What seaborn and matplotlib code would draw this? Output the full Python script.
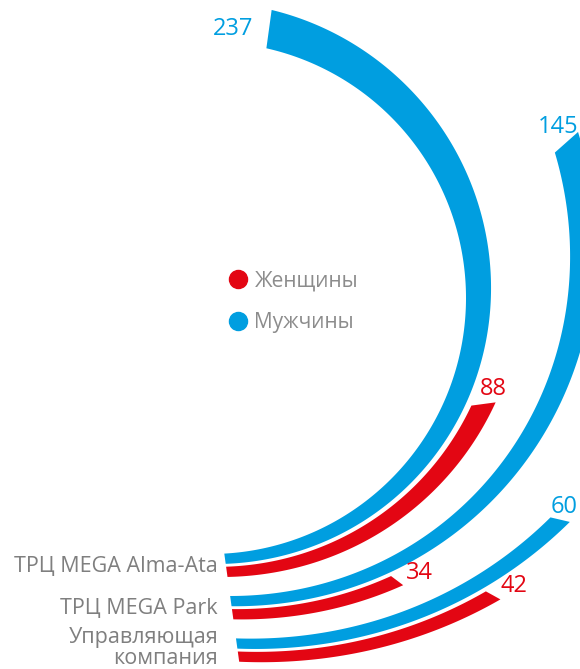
import numpy as np
import matplotlib
matplotlib.use("Agg")
import matplotlib.pyplot as plt
from matplotlib.lines import Line2D
import seaborn as sns

# ---- data ----
groups = ["ТРЦ MEGA Alma-Ata", "ТРЦ MEGA Park", "Управляющая\nкомпания"]
series = ["Женщины", "Мужчины"]
women = [88, 34, 42]
men = [237, 145, 60]

# ---- style ----
BLUE = "#009EE0"
RED = "#E30613"
GREY = "#7F7F7F"
LEGEND_GREY = "#8C8C8C"

sns.set_theme(style="white")
plt.rcParams["font.family"] = ["Open Sans", "DejaVu Sans"]

# ---- geometry (screen-pixel data space) ----
W, H = 580, 669
CX, CY0, RHO0, SHIFT, BULGE = 210.0, 298.0, 256.0, 0.6, 0.1
THETA0 = 3.2                  # degrees, measured from "down", counter-clockwise
DEG_PER_UNIT = 180.0 / 260.0  # angular scale of the value axis
GROUP_STEP, PAIR_STEP, BAND = 103.5, 32.0, 25.0
VAL_FS, CAT_FS, LEG_FS = 17, 15.5, 15


def point(rho, theta_deg):
    t = np.deg2rad(theta_deg)
    cy = CY0 - SHIFT * (rho - RHO0)
    r = rho + BULGE * (rho - RHO0) * np.sin(2 * t)
    return CX + r * np.sin(t), cy + r * np.cos(t)


def arc_polygon(r_in, value):
    t1 = THETA0 + value * DEG_PER_UNIT
    th = np.linspace(THETA0, t1, 300)
    xo, yo = point(r_in + BAND, th)
    xi, yi = point(r_in, th[::-1])
    return np.concatenate([xo, xi]), np.concatenate([yo, yi]), t1


fig = plt.figure(figsize=(W / 100, H / 100), dpi=100)
ax = fig.add_axes([0, 0, 1, 1])
ax.set_xlim(0, W)
ax.set_ylim(H, 0)
ax.set_axis_off()

digit_w = 0.572 * VAL_FS * 100 / 72  # approx. pixel width of one digit

for g, name in enumerate(groups):
    base = RHO0 + g * GROUP_STEP
    bands = [(men[g], base, BLUE), (women[g], base + PAIR_STEP, RED)]
    starts = []
    for value, r_in, col in bands:
        xs, ys, t1 = arc_polygon(r_in, value)
        ax.fill(xs, ys, color=col, lw=0)
        # value label just beyond the arc end, along its tangent
        rm = r_in + BAND / 2
        ex, ey = point(rm, t1)
        tr = np.deg2rad(t1)
        tx, ty = np.cos(tr), -np.sin(tr)
        txt = str(value)
        if tx < -0.5:
            ax.text(ex + 16 * tx, ey + 16 * ty + 3, txt, color=col,
                    fontsize=VAL_FS, ha="right", va="center")
        else:
            d = 18 + 8 * abs(tx)
            lx = min(ex + d * tx, W - len(txt) * digit_w / 2 - 2)
            ax.text(lx, ey + d * ty + 4, txt, color=col,
                    fontsize=VAL_FS, ha="center", va="center")
        starts.append(point(rm, THETA0)[1])
    multi = "\n" in name
    ax.text(218, np.mean(starts) + (-2 if multi else 1), name, color=GREY,
            fontsize=CAT_FS, ha="right", va="center", linespacing=1.02)

handles = [Line2D([], [], marker="o", linestyle="", markersize=13,
                  markerfacecolor=c, markeredgecolor=c) for c in (RED, BLUE)]
ax.legend(handles, series, loc="center left",
          bbox_to_anchor=(217 / W, 1 - 302 / H), frameon=False,
          fontsize=LEG_FS, labelcolor=LEGEND_GREY, handletextpad=0.2,
          labelspacing=1.0, handlelength=1.2, borderaxespad=0)

fig.savefig("out.png", dpi=100)
